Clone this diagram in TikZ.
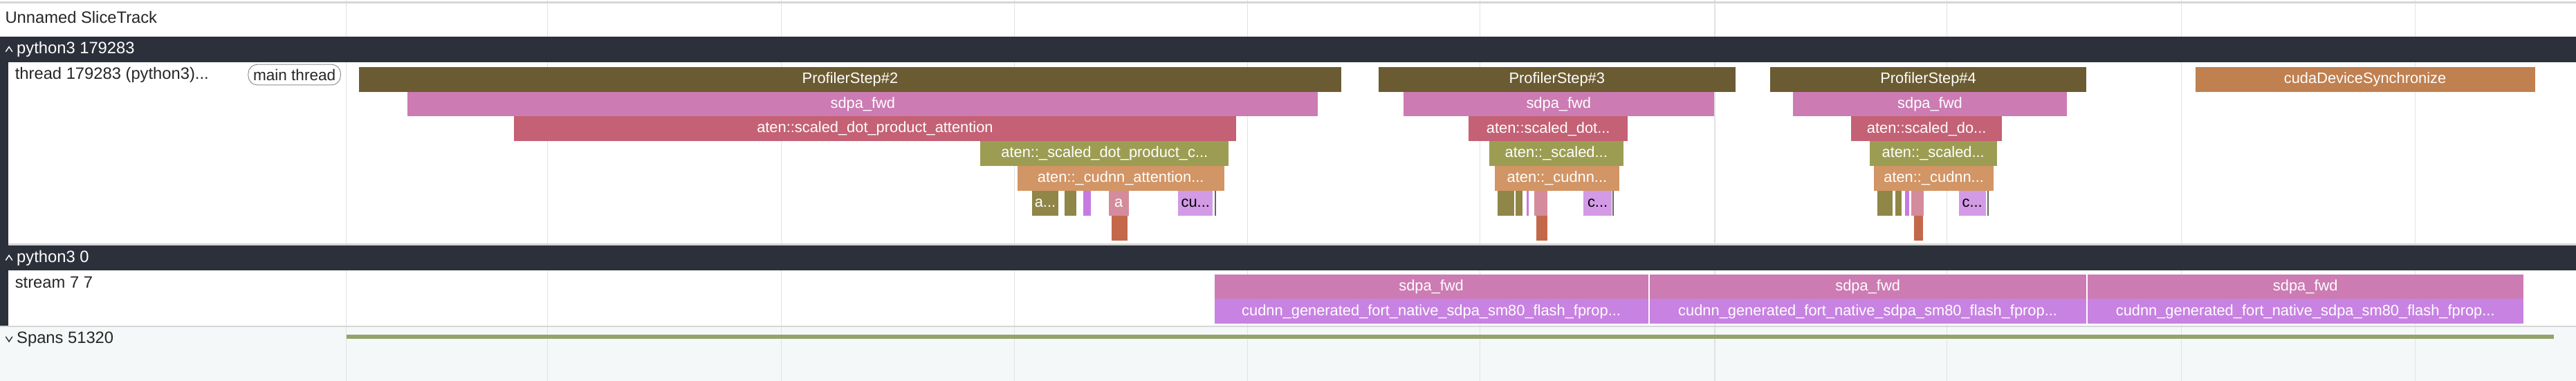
\documentclass[tikz,border=0pt]{standalone}
\usepackage{fontspec}
\setmainfont{Liberation Sans}
\definecolor{hdr}{HTML}{2C303A}
\definecolor{grid}{HTML}{E2E2E2}
\definecolor{sep}{HTML}{D6D6D6}
\definecolor{cPS}{HTML}{6B5B32}
\definecolor{cSD}{HTML}{CC7BB3}
\definecolor{cAT}{HTML}{C46175}
\definecolor{cSC}{HTML}{9C9D53}
\definecolor{cCU}{HTML}{D29565}
\definecolor{cOL}{HTML}{8F8647}
\definecolor{cVI}{HTML}{C77BE0}
\definecolor{cPK}{HTML}{D48C9C}
\definecolor{cLV}{HTML}{D39AE6}
\definecolor{cOR}{HTML}{C4684B}
\definecolor{cDS}{HTML}{C08050}
\definecolor{cKN}{HTML}{C882E2}
\definecolor{cSP}{HTML}{93A36A}
\definecolor{spbg}{HTML}{F5F8F9}
\newcommand\slc[7][white]{%
  \node[slice,fill=#6,text=#1,minimum width={(#4)-(#3)},anchor=north west] (#2) at (#3,#5) {#7};}
\begin{document}
\begin{tikzpicture}[x=1pt,y=-1pt,
  slice/.style={draw=none,inner sep=0pt,minimum height=15.1pt,font=\fontsize{9.2}{10}\selectfont},
  lbl/.style={anchor=west,inner sep=0pt,font=\fontsize{10}{11}\selectfont,text=black!85},
  hlbl/.style={lbl,text=white},
  chev/.style={line width=0.6pt}]
\useasboundingbox (0,0) rectangle (1568,232);
\fill[white] (0,0) rectangle (1568,232);
\fill[spbg] (0,199) rectangle (1568,232);
\fill[hdr] (0,22.5) rectangle (1568,38);
\fill[hdr] (0,149.3) rectangle (1568,164.6);
\fill[hdr] (0,38) rectangle (5,199);
\foreach \gx in {210.8,333.3,475.7,617.5,759.4,901,1043.8,1185.2,1327.6,1470}
  \draw[grid,line width=0.5pt] (\gx,0) -- (\gx,22.5) (\gx,38) -- (\gx,149.3) (\gx,164.6) -- (\gx,232);
\draw[sep,line width=1pt] (0,1.5) -- (1568,1.5);
\draw[sep,line width=1pt] (5,148.8) -- (1568,148.8);
\draw[sep,line width=1pt] (0,198.8) -- (1568,198.8);
\node[lbl] (t0) at (3,10.5) {Unnamed SliceTrack};
\draw[chev,white] (3.5,31.5) -- (5.5,28.5) -- (7.5,31.5);
\node[hlbl] (t1) at (10,30) {python3 179283};
\node[lbl] (t2) at (9,45.5) {thread 179283 (python3)...};
\node[draw=black!45,rounded corners=5.5pt,inner xsep=3pt,inner ysep=1pt,font=\fontsize{9.5}{10}\selectfont,text=black!85,minimum height=12.5pt,anchor=east] (mt) at (207.5,45.5) {main thread};
\draw[chev,white] (3.5,158.5) -- (5.5,155.5) -- (7.5,158.5);
\node[hlbl] (t3) at (10,157) {python3 0};
\node[lbl] (t4) at (9,172) {stream 7 7};
\draw[chev,black!80] (3.5,205) -- (5.5,208) -- (7.5,205);
\node[lbl] (t5) at (10,206.5) {Spans 51320};
\def\La{40.5}\def\Lb{55.6}\def\Lc{70.7}\def\Ld{85.8}\def\Le{100.9}\def\Lf{116}\def\Lg{131.1}
\slc{p2}{218.5}{816}{\La}{cPS}{ProfilerStep\#2}
\slc{s2}{248}{802}{\Lb}{cSD}{sdpa\_fwd}
\slc{a2}{312.8}{752}{\Lc}{cAT}{aten::scaled\_dot\_product\_attention}
\slc{b2}{596.6}{747.7}{\Ld}{cSC}{aten::\_scaled\_dot\_product\_c...}
\slc{c2}{619}{745}{\Le}{cCU}{aten::\_cudnn\_attention...}
\slc{d2}{628}{644}{\Lf}{cOL}{a...}
\slc{e2}{648}{655}{\Lf}{cOL}{}
\slc{f2}{659}{664}{\Lf}{cVI}{}
\slc{g2}{674.6}{686.8}{\Lf}{cPK}{a}
\slc{h2}{676.6}{686}{\Lg}{cOR}{}
\slc[black]{i2}{717}{738}{\Lf}{cLV}{cu...}
\slc{j2}{739}{739.8}{\Lf}{black!60}{}
\slc{p3}{838.8}{1056.2}{\La}{cPS}{ProfilerStep\#3}
\slc{s3}{853.9}{1043.2}{\Lb}{cSD}{sdpa\_fwd}
\slc{a3}{893.7}{990.7}{\Lc}{cAT}{aten::scaled\_dot...}
\slc{b3}{906.3}{987.8}{\Ld}{cSC}{aten::\_scaled...}
\slc{c3}{909.8}{985.3}{\Le}{cCU}{aten::\_cudnn...}
\slc{d3}{911.4}{921.5}{\Lf}{cOL}{}
\slc{e3}{922.5}{926.5}{\Lf}{cOL}{}
\slc{f3}{929}{930.5}{\Lf}{cVI}{}
\slc{g3}{933.5}{941.5}{\Lf}{cPK}{}
\slc{h3}{935}{941.5}{\Lg}{cOR}{}
\slc[black]{i3}{963.5}{981}{\Lf}{cLV}{c...}
\slc{j3}{981.3}{982}{\Lf}{black!60}{}
\slc{p4}{1077.4}{1269.6}{\La}{cPS}{ProfilerStep\#4}
\slc{s4}{1091}{1258}{\Lb}{cSD}{sdpa\_fwd}
\slc{a4}{1126.7}{1218.3}{\Lc}{cAT}{aten::scaled\_do...}
\slc{b4}{1137.7}{1215.3}{\Ld}{cSC}{aten::\_scaled...}
\slc{c4}{1140.6}{1213.2}{\Le}{cCU}{aten::\_cudnn...}
\slc{d4}{1142.4}{1151.9}{\Lf}{cOL}{}
\slc{e4}{1153.4}{1157.4}{\Lf}{cOL}{}
\slc{f4}{1159.3}{1161.8}{\Lf}{cVI}{}
\slc{g4}{1163.3}{1170.9}{\Lf}{cPK}{}
\slc{h4}{1164.8}{1170.4}{\Lg}{cOR}{}
\slc[black]{i4}{1192}{1208.6}{\Lf}{cLV}{c...}
\slc{j4}{1209.4}{1210.1}{\Lf}{black!60}{}
\slc{ds}{1336}{1542.8}{\La}{cDS}{cudaDeviceSynchronize}
\slc{k1}{739}{1003}{166.8}{cSD}{sdpa\_fwd}
\slc{m1}{739}{1003}{181.9}{cKN}{cudnn\_generated\_fort\_native\_sdpa\_sm80\_flash\_fprop...}
\slc{k2}{1003.8}{1269.6}{166.8}{cSD}{sdpa\_fwd}
\slc{m2}{1003.8}{1269.6}{181.9}{cKN}{cudnn\_generated\_fort\_native\_sdpa\_sm80\_flash\_fprop...}
\slc{k3}{1270.5}{1535.6}{166.8}{cSD}{sdpa\_fwd}
\slc{m3}{1270.5}{1535.6}{181.9}{cKN}{cudnn\_generated\_fort\_native\_sdpa\_sm80\_flash\_fprop...}
\fill[cSP] (210.8,203.9) rectangle (1554.5,206.3);
\end{tikzpicture}
\end{document}
